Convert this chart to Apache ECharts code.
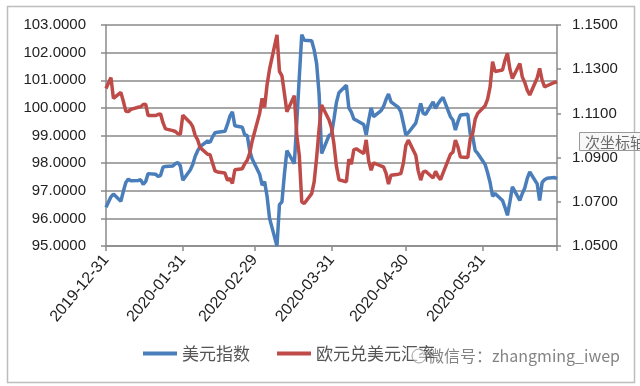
<!DOCTYPE html>
<html>
<head>
<meta charset="utf-8">
<script src="https://cdn.jsdelivr.net/npm/echarts@6/dist/echarts.min.js"></script>
<style>
html,body{margin:0;padding:0;background:#fff;}
#c{width:640px;height:386px;}
</style>
</head>
<body>
<div id="c"></div>
<script>
// ---- Data ----
const tradeDates = [
  '2019-12-31',
  '2020-01-02','2020-01-03',
  '2020-01-06','2020-01-07','2020-01-08','2020-01-09','2020-01-10',
  '2020-01-13','2020-01-14','2020-01-15','2020-01-16','2020-01-17',
  '2020-01-20','2020-01-21','2020-01-22','2020-01-23','2020-01-24',
  '2020-01-27','2020-01-28','2020-01-29','2020-01-30','2020-01-31',
  '2020-02-03','2020-02-04','2020-02-05','2020-02-06','2020-02-07',
  '2020-02-10','2020-02-11','2020-02-12','2020-02-13','2020-02-14',
  '2020-02-17','2020-02-18','2020-02-19','2020-02-20','2020-02-21',
  '2020-02-24','2020-02-25','2020-02-26','2020-02-27','2020-02-28',
  '2020-03-02','2020-03-03','2020-03-04','2020-03-05','2020-03-06',
  '2020-03-09','2020-03-10','2020-03-11','2020-03-12','2020-03-13',
  '2020-03-16','2020-03-17','2020-03-18','2020-03-19','2020-03-20',
  '2020-03-23','2020-03-24','2020-03-25','2020-03-26','2020-03-27',
  '2020-03-30','2020-03-31',
  '2020-04-01','2020-04-02','2020-04-03',
  '2020-04-06','2020-04-07','2020-04-08','2020-04-09','2020-04-10',
  '2020-04-13','2020-04-14','2020-04-15','2020-04-16','2020-04-17',
  '2020-04-20','2020-04-21','2020-04-22','2020-04-23','2020-04-24',
  '2020-04-27','2020-04-28','2020-04-29','2020-04-30',
  '2020-05-01',
  '2020-05-04','2020-05-05','2020-05-06','2020-05-07','2020-05-08',
  '2020-05-11','2020-05-12','2020-05-13','2020-05-14','2020-05-15',
  '2020-05-18','2020-05-19','2020-05-20','2020-05-21','2020-05-22',
  '2020-05-25','2020-05-26','2020-05-27','2020-05-28','2020-05-29',
  '2020-06-01','2020-06-02','2020-06-03','2020-06-04','2020-06-05',
  '2020-06-08','2020-06-09','2020-06-10','2020-06-11','2020-06-12',
  '2020-06-15','2020-06-16','2020-06-17','2020-06-18','2020-06-19',
  '2020-06-22','2020-06-23','2020-06-24','2020-06-25','2020-06-26',
  '2020-06-29','2020-06-30'
];

const dollarIndex = [
  96.40,
  96.78, 96.88,
  96.62, 96.98, 97.30, 97.42, 97.36,
  97.37, 97.40, 97.23, 97.33, 97.62,
  97.60, 97.52, 97.55, 97.85, 97.88,
  97.90, 97.98, 98.02, 97.90, 97.38,
  97.75, 97.95, 98.25, 98.45, 98.60,
  98.80, 98.75, 98.95, 99.10, 99.12,
  99.15, 99.40, 99.70, 99.86, 99.35,
  99.30, 99.02, 99.00, 98.45, 98.15,
  97.60, 97.20, 97.33, 96.80, 96.00,
  95.00, 96.50, 96.60, 97.60, 98.45,
  97.98, 99.50, 101.10, 102.65, 102.45,
  102.43, 102.10, 101.60, 100.50, 98.35,
  99.00, 99.05,
  99.60, 100.20, 100.55,
  100.82, 100.00, 99.85, 99.60, 99.55,
  99.40, 99.02, 99.55, 100.00, 99.68,
  99.90, 100.05, 100.30, 100.50, 100.22,
  100.02, 99.85, 99.45, 99.02,
  99.10,
  99.45, 99.80, 100.16, 99.80, 99.77,
  100.22, 99.98, 100.15, 100.28, 100.38,
  99.68, 99.56, 99.20, 99.50, 99.74,
  99.77, 99.05, 98.95, 98.45, 98.35,
  97.95, 97.65, 97.30, 96.80, 96.90,
  96.65, 96.40, 96.11, 96.60, 97.14,
  96.65, 96.90, 97.10, 97.45, 97.68,
  97.25, 96.65, 97.30, 97.40, 97.45,
  97.48, 97.44
];

const eurUsd = [
  1.1213,
  1.1262, 1.1168,
  1.1195, 1.1155, 1.1110, 1.1108, 1.1118,
  1.1128, 1.1130, 1.1140, 1.1142, 1.1090,
  1.1090, 1.1095, 1.1098, 1.1058, 1.1030,
  1.1022, 1.1018, 1.1008, 1.1005, 1.1092,
  1.1058, 1.1040, 1.1000, 1.0980, 1.0945,
  1.0915, 1.0913, 1.0875, 1.0840, 1.0835,
  1.0830, 1.0798, 1.0805, 1.0783, 1.0845,
  1.0850, 1.0872, 1.0888, 1.0920, 1.0975,
  1.1100, 1.1168, 1.1127, 1.1230, 1.1300,
  1.1455, 1.1290, 1.1270, 1.1190, 1.1107,
  1.1180, 1.1000, 1.0910, 1.0700, 1.0692,
  1.0737, 1.0790, 1.0900, 1.1030, 1.1138,
  1.1070, 1.1035,
  1.0960, 1.0860, 1.0800,
  1.0790, 1.0893, 1.0870, 1.0935, 1.0940,
  1.0918, 1.0980, 1.0885, 1.0843, 1.0876,
  1.0862, 1.0858, 1.0830, 1.0780, 1.0820,
  1.0825, 1.0828, 1.0875, 1.0955,
  1.0979,
  1.0911, 1.0840, 1.0798, 1.0835, 1.0838,
  1.0808, 1.0838, 1.0815, 1.0800, 1.0830,
  1.0915, 1.0925, 1.0979, 1.0950, 1.0903,
  1.0900, 1.0985, 1.1010, 1.1075, 1.1100,
  1.1135, 1.1165, 1.1220, 1.1334, 1.1290,
  1.1296, 1.1340, 1.1372, 1.1300, 1.1258,
  1.1326, 1.1265, 1.1240, 1.1205, 1.1183,
  1.1260, 1.1304, 1.1250, 1.1220, 1.1225,
  1.1240, 1.1243
];

const seriesNames = ['美元指数', '欧元兑美元汇率'];
const labelDates = ['2019-12-31','2020-01-31','2020-02-29','2020-03-31','2020-04-30','2020-05-31'];
const tickDates = ['2019-12-31','2020-01-31','2020-02-29','2020-03-31','2020-04-30','2020-05-31','2020-06-30'];
const axisStart = '2019-12-31';
const axisEnd = '2020-06-30';

// ---- Build calendar-day category axis (Excel date axis) ----
function fmt(d){
  const m = String(d.getUTCMonth()+1).padStart(2,'0');
  const dd = String(d.getUTCDate()).padStart(2,'0');
  return d.getUTCFullYear()+'-'+m+'-'+dd;
}
const calendar = [];
for (let d = new Date(axisStart+'T00:00:00Z'); fmt(d) <= axisEnd; d.setUTCDate(d.getUTCDate()+1)) {
  calendar.push(fmt(d));
}
const dxyMap = {}, eurMap = {};
tradeDates.forEach((dt, i) => { dxyMap[dt] = dollarIndex[i]; eurMap[dt] = eurUsd[i]; });
const dxyData = calendar.map(dt => dt in dxyMap ? dxyMap[dt] : null);
const eurData = calendar.map(dt => dt in eurMap ? eurMap[dt] : null);

const FONT = "'Liberation Sans', 'Noto Sans CJK SC', sans-serif";
const gridColor = '#8a8a8a';

const chart = echarts.init(document.getElementById('c'), null, {renderer: 'canvas'});
chart.setOption({
  backgroundColor: '#ffffff',
  animation: false,
  grid: {left: 106, right: 83, top: 25, bottom: 140, containLabel: false},
  legend: {
    left: 143, top: 345, padding: 0,
    icon: 'rect', itemWidth: 34, itemHeight: 4, itemGap: 27,
    textStyle: {fontSize: 17, color: '#555', fontFamily: "'Noto Sans CJK SC', sans-serif"},
    data: seriesNames
  },
  xAxis: {
    type: 'category',
    data: calendar,
    boundaryGap: false,
    axisLine: {show: true, lineStyle: {color: gridColor, width: 1.5}},
    axisTick: {show: true, length: 5, lineStyle: {color: gridColor, width: 1.5},
      interval: (i, v) => tickDates.includes(v)},
    axisLabel: {
      interval: (i, v) => labelDates.includes(v),
      rotate: 50, margin: 11, fontSize: 16, color: '#222', fontFamily: FONT
    },
    splitLine: {show: false}
  },
  yAxis: [
    {
      type: 'value', min: 95, max: 103, interval: 1, position: 'left',
      axisLine: {show: true, lineStyle: {color: gridColor, width: 1.5}},
      axisTick: {show: true, length: 5, lineStyle: {color: gridColor, width: 1.5}},
      splitLine: {show: true, lineStyle: {color: gridColor, width: 1.5}},
      axisLabel: {margin: 20, fontSize: 15, color: '#222', fontFamily: FONT,
        formatter: v => v.toFixed(4)}
    },
    {
      type: 'value', min: 1.05, max: 1.15, interval: 0.02, position: 'right',
      axisLine: {show: true, lineStyle: {color: gridColor, width: 1.5}},
      axisTick: {show: true, length: 4, lineStyle: {color: gridColor, width: 1.5}},
      splitLine: {show: false},
      axisLabel: {margin: 15, fontSize: 15, color: '#222', fontFamily: FONT,
        formatter: v => v.toFixed(4)}
    }
  ],
  series: [
    {
      name: seriesNames[0], type: 'line', yAxisIndex: 0, data: dxyData,
      connectNulls: true, showSymbol: false, symbol: 'none',
      lineStyle: {color: '#4A7EBB', width: 3.5}, itemStyle: {color: '#4A7EBB'}
    },
    {
      name: seriesNames[1], type: 'line', yAxisIndex: 1, data: eurData,
      connectNulls: true, showSymbol: false, symbol: 'none',
      lineStyle: {color: '#BE4B48', width: 3.5}, itemStyle: {color: '#BE4B48'}
    }
  ],
  graphic: [
    {type: 'rect', shape: {x: 7.5, y: 6.5, width: 627, height: 376},
      style: {fill: 'none', stroke: '#bdbdbd', lineWidth: 1.5}, z: 0, silent: true},
    {type: 'rect', shape: {x: 579.5, y: 132.5, width: 70, height: 18},
      style: {fill: '#f7f7f7', stroke: '#9a9a9a', lineWidth: 1}, z: 100},
    {type: 'text', x: 585, y: 142, z: 101,
      style: {text: '次坐标轴', fontSize: 15, fill: '#6a6a6a', verticalAlign: 'middle',
        fontFamily: "'Noto Sans CJK SC', sans-serif"}},
    {type: 'circle', shape: {cx: 419, cy: 356, r: 7}, z: 100,
      style: {fill: 'rgba(255,255,255,0.5)', stroke: 'rgba(120,120,120,0.7)', lineWidth: 1}},
    {type: 'text', x: 428, y: 356, z: 100,
      style: {text: '微信号：zhangming_iwep', fontSize: 16, fill: 'rgba(90,90,90,0.75)',
        verticalAlign: 'middle', fontFamily: "'Noto Sans CJK SC', sans-serif"}}
  ]
});
</script>
</body>
</html>
